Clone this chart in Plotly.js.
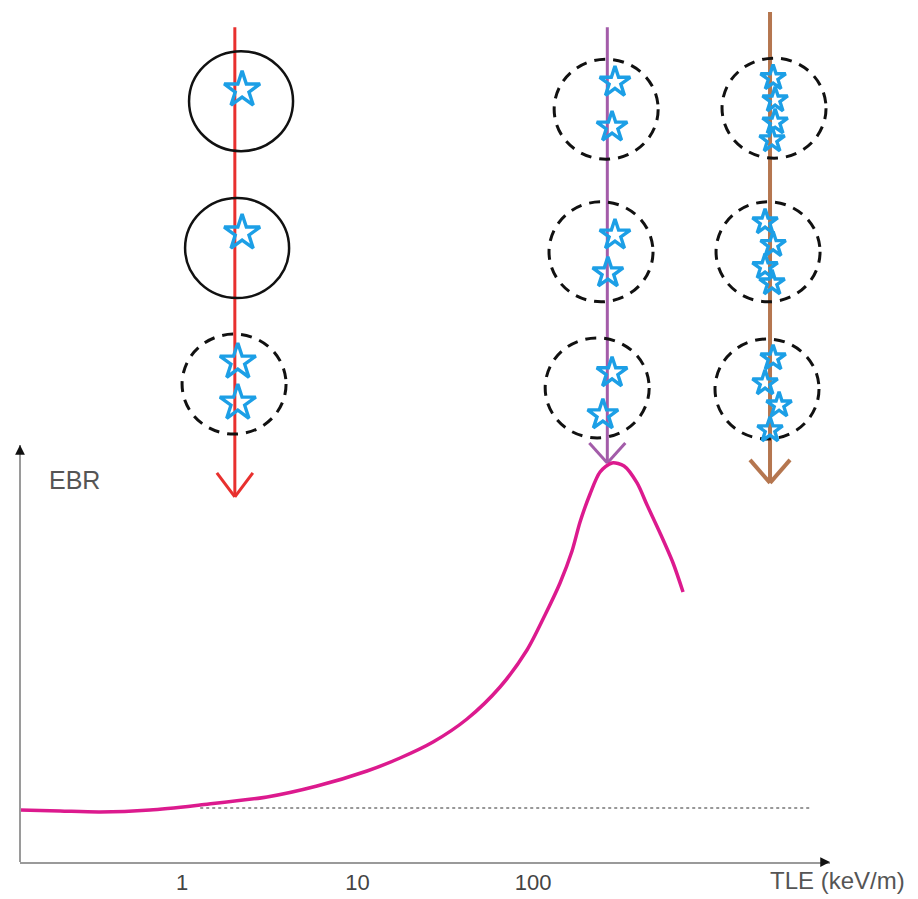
<!DOCTYPE html>
<html><head><meta charset="utf-8">
<script src="https://cdn.plot.ly/plotly-3.0.1.min.js"></script>
<style>html,body{margin:0;padding:0;background:#fff}#chart{width:918px;height:899px}</style>
</head><body><div id="chart"></div>
<script>
// EBR curve vs TLE (keV/m)
const tleCurve = [0.119, 0.202, 0.341, 0.657, 1.266, 3.05, 5.88, 11.33, 17.47, 26.93, 42.06, 64.86, 92.4, 117.0, 142.5, 166.8, 185.3, 211.3, 240.9, 281.9, 330.0, 391.4, 446.3, 529.2, 627.9, 715.6];
const ebrCurve = [0.963, 0.944, 0.926, 0.963, 1.056, 1.204, 1.407, 1.685, 1.926, 2.222, 2.648, 3.241, 3.926, 4.574, 5.167, 5.759, 6.296, 6.815, 7.222, 7.389, 7.333, 7.019, 6.611, 6.093, 5.537, 5.0];
const baselineTLE = [1.27, 3790];
const baselineEBR = [1, 1];
const tickVals = [1, 10, 100];
const tickText = ['1', '10', '100'];

// Schematic tracks (one per ionisation density)
const trackTLE = [2.0, 265, 2240];
const trackTop = [15.46, 15.46, 15.74];
const trackTip = [6.76, 7.39, 7.02];
const trackColors = ['#e8302e', '#a35ca9', '#b5764f'];
const trackWidths = [3, 3, 4];
// Cells crossed by each track
const cellTLE = [[2.17, 2.06, 1.98], [261, 244, 232], [2361, 2183, 2153]];
const cellEBR = [[14.09, 11.37, 8.85], [13.94, 11.30, 8.78], [13.96, 11.30, 8.76]];
const cellDashed = [[false, false, true], [true, true, true], [true, true, true]];
// Ionisation events (stars) per track
const starTLE = [
  [2.20, 2.20, 2.08, 2.08],
  [293, 282, 293, 267, 282, 250],
  [2333, 2395, 2395, 2301, 2099, 2333, 2099, 2301, 2333, 2099, 2522, 2240]
];
const starEBR = [
  [14.30, 11.65, 9.26, 8.50],
  [14.44, 13.61, 11.61, 10.91, 9.06, 8.28],
  [14.52, 14.11, 13.70, 13.37, 11.85, 11.43, 11.02, 10.72, 9.33, 8.87, 8.46, 8.00]
];
const starSizes = [27, 23, 19];

const xLogRange = [-0.923, 3.692];
const yRange = [0, 15.963];
const yAxisTop = 7.72;
const plotWidthPx = 810;
const pxPerDecade = plotWidthPx / (xLogRange[1] - xLogRange[0]);
const cellRadiusPx = [52, 50];
const headHalfPx = [18, 18, 20];
const headLenPx = [24, 20, 23];
const shiftPx = (v, px) => v * Math.pow(10, px / pxPerDecade);

const traces = [];
traces.push({
  x: baselineTLE, y: baselineEBR, mode: 'lines', type: 'scatter', hoverinfo: 'skip',
  line: {color: '#777', width: 1.5, dash: 'dot'}
});
traces.push({
  x: tleCurve, y: ebrCurve, mode: 'lines', type: 'scatter', hoverinfo: 'skip',
  line: {color: '#dc1a8e', width: 3.5, shape: 'spline', smoothing: 0.8}
});
for (let i = 0; i < 3; i++) {
  traces.push({
    x: starTLE[i], y: starEBR[i], mode: 'markers', type: 'scatter', hoverinfo: 'skip', cliponaxis: false,
    marker: {symbol: 'star-open', size: starSizes[i], color: '#1c9fe6', line: {color: '#1c9fe6', width: 3.4}}
  });
}

const shapes = [];
// y axis line
shapes.push({type: 'line', xref: 'paper', x0: 0, x1: 0, yref: 'y', y0: 0, y1: yAxisTop, line: {color: '#9a9a9a', width: 2}});
for (let i = 0; i < 3; i++) {
  // track shaft
  shapes.push({type: 'line', layer: 'below', x0: trackTLE[i], x1: trackTLE[i], y0: trackTop[i], y1: trackTip[i], line: {color: trackColors[i], width: trackWidths[i]}});
  // open arrowhead
  [-1, 1].forEach(s => {
    shapes.push({type: 'line', layer: 'below', ysizemode: 'pixel', yanchor: trackTip[i],
      x0: trackTLE[i], x1: shiftPx(trackTLE[i], s * headHalfPx[i]), y0: 0, y1: headLenPx[i],
      line: {color: trackColors[i], width: trackWidths[i]}});
  });
  for (let j = 0; j < 3; j++) {
    const d = cellDashed[i][j];
    shapes.push({type: 'circle', layer: 'below', ysizemode: 'pixel', yanchor: cellEBR[i][j],
      x0: shiftPx(cellTLE[i][j], -cellRadiusPx[0]), x1: shiftPx(cellTLE[i][j], cellRadiusPx[0]),
      y0: -cellRadiusPx[1], y1: cellRadiusPx[1],
      line: {color: '#111', width: d ? 3 : 2.5, dash: d ? '11px,8px' : 'solid'}});
  }
}

const annotations = [
  {xref: 'paper', yref: 'y', x: 0, y: yAxisTop, ax: 0, ay: 9, showarrow: true, arrowhead: 2, arrowsize: 1.3, arrowwidth: 1.5, arrowcolor: '#111', text: ''},
  {xref: 'x', yref: 'y', x: xLogRange[1], y: 0, ax: -9, ay: 0, showarrow: true, arrowhead: 2, arrowsize: 1.3, arrowwidth: 1.5, arrowcolor: '#111', text: ''},
  {xref: 'paper', yref: 'paper', x: 0.0333, y: 0.443, xanchor: 'left', yanchor: 'middle', showarrow: false, text: 'EBR',
    font: {family: 'Liberation Sans, Arial, sans-serif', size: 25, color: '#555'}},
  {xref: 'paper', yref: 'paper', x: 0.923, y: -0.021, xanchor: 'left', yanchor: 'middle', showarrow: false, text: 'TLE (keV/m)',
    font: {family: 'Liberation Sans, Arial, sans-serif', size: 24, color: '#555'}}
];

const layout = {
  width: 918, height: 899,
  margin: {l: 20, r: 88, t: 0, b: 37, pad: 0},
  paper_bgcolor: '#fff', plot_bgcolor: '#fff',
  showlegend: false,
  xaxis: {type: 'log', range: xLogRange, showgrid: false, zeroline: false, showline: true, linecolor: '#9a9a9a', linewidth: 2,
    tickvals: tickVals, ticktext: tickText, ticks: '', fixedrange: true,
    tickfont: {family: 'Liberation Sans, Arial, sans-serif', size: 22, color: '#444'}},
  yaxis: {range: yRange, showgrid: false, zeroline: false, showline: false, showticklabels: false, ticks: '', fixedrange: true},
  shapes: shapes,
  annotations: annotations
};

Plotly.newPlot('chart', traces, layout, {displayModeBar: false, staticPlot: true});
</script></body></html>
